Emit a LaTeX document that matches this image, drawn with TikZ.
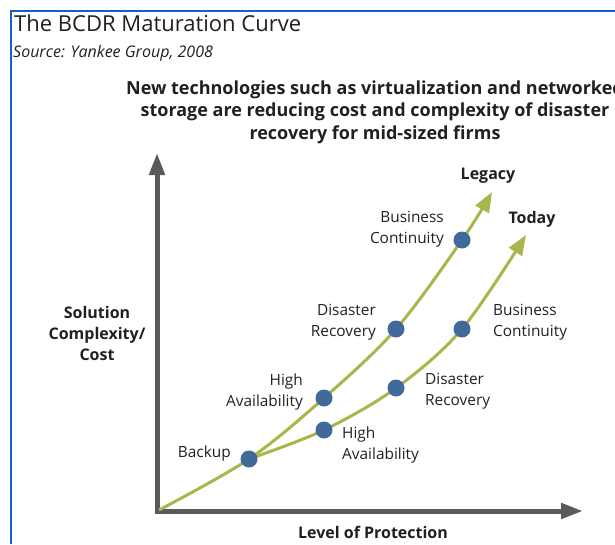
\documentclass[tikz,border=0pt]{standalone}
\usepackage{fontspec}
\setmainfont{Open Sans}
\usepackage{tikz}
\usetikzlibrary{arrows.meta,positioning}

\definecolor{frameblue}{HTML}{1560C8}
\definecolor{axisgray}{HTML}{5A5A5A}
\definecolor{curvegreen}{HTML}{A9B64C}
\definecolor{dotblue}{HTML}{41699A}
\definecolor{inkdark}{HTML}{231F20}

\tikzset{
  title/.style={font=\fontsize{22}{26}\selectfont,text=inkdark,inner sep=0pt},
  source/.style={font=\fontsize{16}{19}\itshape,text=inkdark,inner sep=0pt},
  headline/.style={font=\fontsize{18}{22.5}\selectfont\bfseries,text=inkdark,align=center,inner sep=0pt},
  axlbl/.style={font=\fontsize{16}{21}\selectfont\bfseries,text=inkdark,align=center,inner sep=0pt},
  lbl/.style={font=\fontsize{15.4}{21}\selectfont,text=inkdark,inner sep=0pt},
  milestone/.style={circle,fill=dotblue,minimum size=17pt,inner sep=0pt},
  curve/.style={curvegreen,line width=3pt,-{Triangle[length=20pt,width=15pt]}},
  axis/.style={axisgray,line width=5pt,line join=miter,
    {Triangle[length=22pt,width=15pt]}-{Triangle[length=22pt,width=15pt]}},
}

\begin{document}
\begin{tikzpicture}[x=1pt,y=-1pt]
  \useasboundingbox (0,0) rectangle (615,544);
  \clip (0,0) rectangle (615,544);

  % frame
  \draw[frameblue,line width=2pt] (11,544) -- (11,11) -- (615,11);

  % heading
  \node[title,anchor=west] (ttl) at (14,23) {The BCDR Maturation Curve};
  \node[source,anchor=west] (src) at (13,53) {Source: Yankee Group, 2008};
  \node[headline] (sub) at (375,112)
    {New technologies such as virtualization and networked\\
     storage are reducing cost and complexity of disaster\\
     recovery for mid-sized firms};

  % axes
  \coordinate (o) at (157,511);
  \coordinate (ytip) at (157,153);
  \coordinate (xtip) at (583,511);
  \draw[axis] (ytip) -- (o) -- (xtip);
  \node[axlbl] (ylab) at (97,333) {Solution\\Complexity/\\Cost};
  \node[axlbl] (xlab) at (373,532) {Level of Protection};

  % points on the curves
  \coordinate (start) at (159,510);
  \coordinate (bk) at (249,459);
  \coordinate (lha) at (324,398);
  \coordinate (ldr) at (396,329);
  \coordinate (lbc) at (462,240);
  \coordinate (lend) at (492,192);
  \coordinate (tha) at (324,430);
  \coordinate (tdr) at (396,388);
  \coordinate (tbc) at (462,329);
  \coordinate (tend) at (526,235);

  % legacy and today curves
  \draw[curve] plot[smooth,tension=0.55] coordinates {(start) (bk) (lha) (ldr) (lbc) (lend)};
  \draw[curve] plot[smooth,tension=0.55] coordinates {(bk) (tha) (tdr) (tbc) (tend)};
  \node[axlbl] (legacy) at (488,176) {Legacy};
  \node[axlbl] (today) at (532,219) {Today};

  % milestones
  \node[milestone] (bkdot) at (bk) {};
  \node[milestone] (lhadot) at (lha) {};
  \node[milestone] (ldrdot) at (ldr) {};
  \node[milestone] (lbcdot) at (lbc) {};
  \node[milestone] (thadot) at (tha) {};
  \node[milestone] (tdrdot) at (tdr) {};
  \node[milestone] (tbcdot) at (tbc) {};

  \node[lbl,anchor=east] (bklab) at (231,453) {Backup};
  \node[lbl,anchor=east,align=right] (lhalab) at (303,391.5) {High\\Availability};
  \node[lbl,anchor=east,align=right] (ldrlab) at (376,322) {Disaster\\Recovery};
  \node[lbl,anchor=east,align=right] (lbclab) at (444,229) {Business\\Continuity};
  \node[lbl,anchor=west,align=left] (thalab) at (342,444.5) {High\\Availability};
  \node[lbl,anchor=west,align=left] (tdrlab) at (425,391.5) {Disaster\\Recovery};
  \node[lbl,anchor=west,align=left] (tbclab) at (493,322.5) {Business\\Continuity};
\end{tikzpicture}
\end{document}
